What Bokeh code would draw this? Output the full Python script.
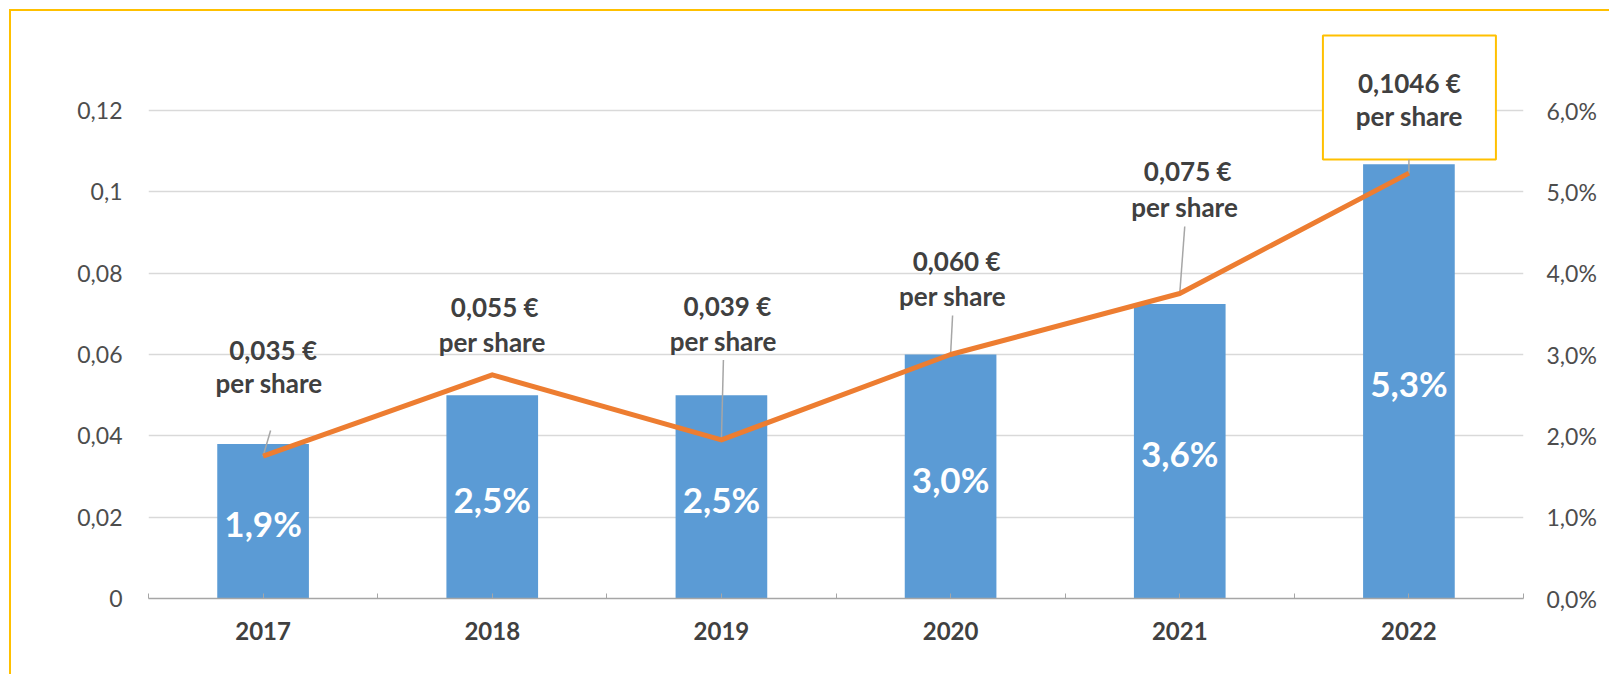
from bokeh.plotting import figure
from bokeh.models import Range1d, LinearAxis, FixedTicker, CustomJSTickFormatter, ColumnDataSource
from bokeh.embed import file_html
from bokeh.resources import INLINE
from bokeh.core.properties import value

# ---------------- data ----------------
years = ["2017", "2018", "2019", "2020", "2021", "2022"]
dividend_eur = [0.035, 0.055, 0.039, 0.060, 0.075, 0.1046]   # line, left axis
yield_pct = [1.9, 2.5, 2.5, 3.0, 3.62, 5.34]                  # bars, right axis
left_ticks = [0, 0.02, 0.04, 0.06, 0.08, 0.10, 0.12]
right_ticks = [0, 1, 2, 3, 4, 5, 6]
label_suffix = "per share"

# ---------------- layout / style ----------------
W, H = 1600, 665
FL, FR, FT, FB = 137, 88, 18, 78
FRAME_H = H - FT - FB
FRAME_W = W - FL - FR
Y_END = 0.12 * FRAME_H / 488.0          # keeps 0..0.12 over 488 px
PCT_END = Y_END * 50
CAT_W = FRAME_W / len(years)
PY = Y_END / FRAME_H                    # data units per pixel (left axis)

FONT = value("Lato")
DARK = "#404040"
GREY = "#4D4D4D"
BAR = "#5B9BD5"
ORANGE = "#ED7D31"
GOLD = "#FFC000"

# label offsets in pixels (style): line 1 / line 2 / leader top
lab1_dx = [10, 2.5, 6, 6, 8, 0.5]
lab1_dy = [-106, -68, -134, -94, -123, -90.6]
lab2_dx = [6, 0, 2, 2, 5, 0.5]
lab2_dy = [-73, -33, -99, -59, -87, -57.6]
lead_dx = [7.5, 0, 2, 2, 5, 0]
lead_dy = [-25.7, 0, -80, -39, -67, -13.6]
boxed = 5
box_dy = -75.6
box_w, box_h = 173, 124

xs = [i + 0.5 for i in range(len(years))]
bounds = [i for i in range(len(years) + 1)]


def fmt_eur(v):
    s = f"{v:.4f}".rstrip("0")
    a, b = s.split(".")
    return f"{a},{b.ljust(3, '0')} €"


line1 = [fmt_eur(v) for v in dividend_eur]
line2 = [label_suffix] * len(years)
bar_labels = [f"{v:.1f}".replace(".", ",") + "%" for v in yield_pct]

p = figure(width=W, height=H, output_backend="svg", toolbar_location=None,
           x_range=Range1d(0, len(years)), y_range=Range1d(0, Y_END),
           min_border_left=FL, min_border_right=FR, min_border_top=FT, min_border_bottom=FB,
           background_fill_color="white", border_fill_color="white")
p.extra_y_ranges = {"pct": Range1d(0, PCT_END)}
p.outline_line_color = None
p.styles = {"border-left": f"2px solid {GOLD}", "border-top": f"2px solid {GOLD}",
            "margin-left": "9px", "margin-top": "9px"}

# grid
p.xgrid.grid_line_color = None
p.ygrid.ticker = FixedTicker(ticks=left_ticks)
p.ygrid.grid_line_color = "#D9D9D9"
p.ygrid.grid_line_width = 1.5

# left axis
la = p.yaxis[0]
la.ticker = FixedTicker(ticks=left_ticks)
la.formatter = CustomJSTickFormatter(code="return (Math.round(tick*100)/100).toString().replace('.', ',');")
la.axis_line_color = None
la.major_tick_line_color = None
la.minor_tick_line_color = None
la.major_tick_out = 0
la.major_tick_in = 0
la.minor_tick_out = 0
la.major_label_text_font = "Lato"
la.major_label_text_font_size = "23px"
la.major_label_text_color = GREY
la.major_label_standoff = 26

# right axis
ra = LinearAxis(y_range_name="pct", ticker=FixedTicker(ticks=right_ticks))
ra.formatter = CustomJSTickFormatter(code="return tick.toFixed(1).replace('.', ',') + '%';")
ra.axis_line_color = None
ra.major_tick_line_color = None
ra.minor_tick_line_color = None
ra.major_tick_out = 0
ra.major_tick_in = 0
ra.minor_tick_out = 0
ra.major_label_text_font = "Lato"
ra.major_label_text_font_size = "23px"
ra.major_label_text_color = GREY
ra.major_label_standoff = 23
p.add_layout(ra, "right")

# bottom axis
ba = p.xaxis[0]
ba.ticker = FixedTicker(ticks=xs, minor_ticks=bounds)
ba.major_label_overrides = {x: y for x, y in zip(xs, years)}
ba.axis_line_color = "#A6A6A6"
ba.axis_line_width = 1.5
ba.major_tick_in = 5
ba.major_tick_out = 0
ba.minor_tick_in = 5
ba.minor_tick_out = 0
ba.major_tick_line_color = "#A6A6A6"
ba.minor_tick_line_color = "#A6A6A6"
ba.major_label_text_font = "Lato"
ba.major_label_text_font_style = "bold"
ba.major_label_text_font_size = "24px"
ba.major_label_text_color = DARK
ba.major_label_standoff = 23

# bars
src = ColumnDataSource(dict(x=xs, yld=yield_pct, mid=[v / 2 for v in yield_pct], lab=bar_labels))
p.vbar(x="x", top="yld", width=0.4, source=src, y_range_name="pct",
       fill_color=BAR, line_color=None)

# highlighted label box
p.rect(x=[xs[boxed] + 0.5 / CAT_W], y=[dividend_eur[boxed] - box_dy * PY],
       width=box_w, height=box_h, width_units="screen", height_units="screen",
       fill_color="white", line_color=GOLD, line_width=2)

# leader lines
lx0 = [x + dx / CAT_W for x, dx in zip(xs, lead_dx)]
ly0 = [v - dy * PY for v, dy in zip(dividend_eur, lead_dy)]
p.segment(x0=lx0, y0=ly0, x1=xs, y1=dividend_eur, line_color="#A6A6A6", line_width=1.5)

# dividend line
p.line(xs, dividend_eur, line_color=ORANGE, line_width=5, line_join="round")

# bar labels
p.text(x="x", y="mid", text="lab", source=src, y_range_name="pct", y_offset=2,
       text_align="center", text_baseline="middle", text_font=FONT,
       text_font_style="bold", text_font_size="35px", text_color="white")

# dividend labels
lsrc = ColumnDataSource(dict(x=xs, y=dividend_eur, t1=line1, t2=line2,
                             dx1=lab1_dx, dy1=lab1_dy, dx2=lab2_dx, dy2=lab2_dy))
for t, dx, dy in (("t1", "dx1", "dy1"), ("t2", "dx2", "dy2")):
    p.text(x="x", y="y", text=t, x_offset=dx, y_offset=dy, source=lsrc,
           text_align="center", text_baseline="middle", text_font=FONT,
           text_font_style="bold", text_font_size="26px", text_color=DARK)

open("out.html", "w").write(file_html(p, INLINE))
